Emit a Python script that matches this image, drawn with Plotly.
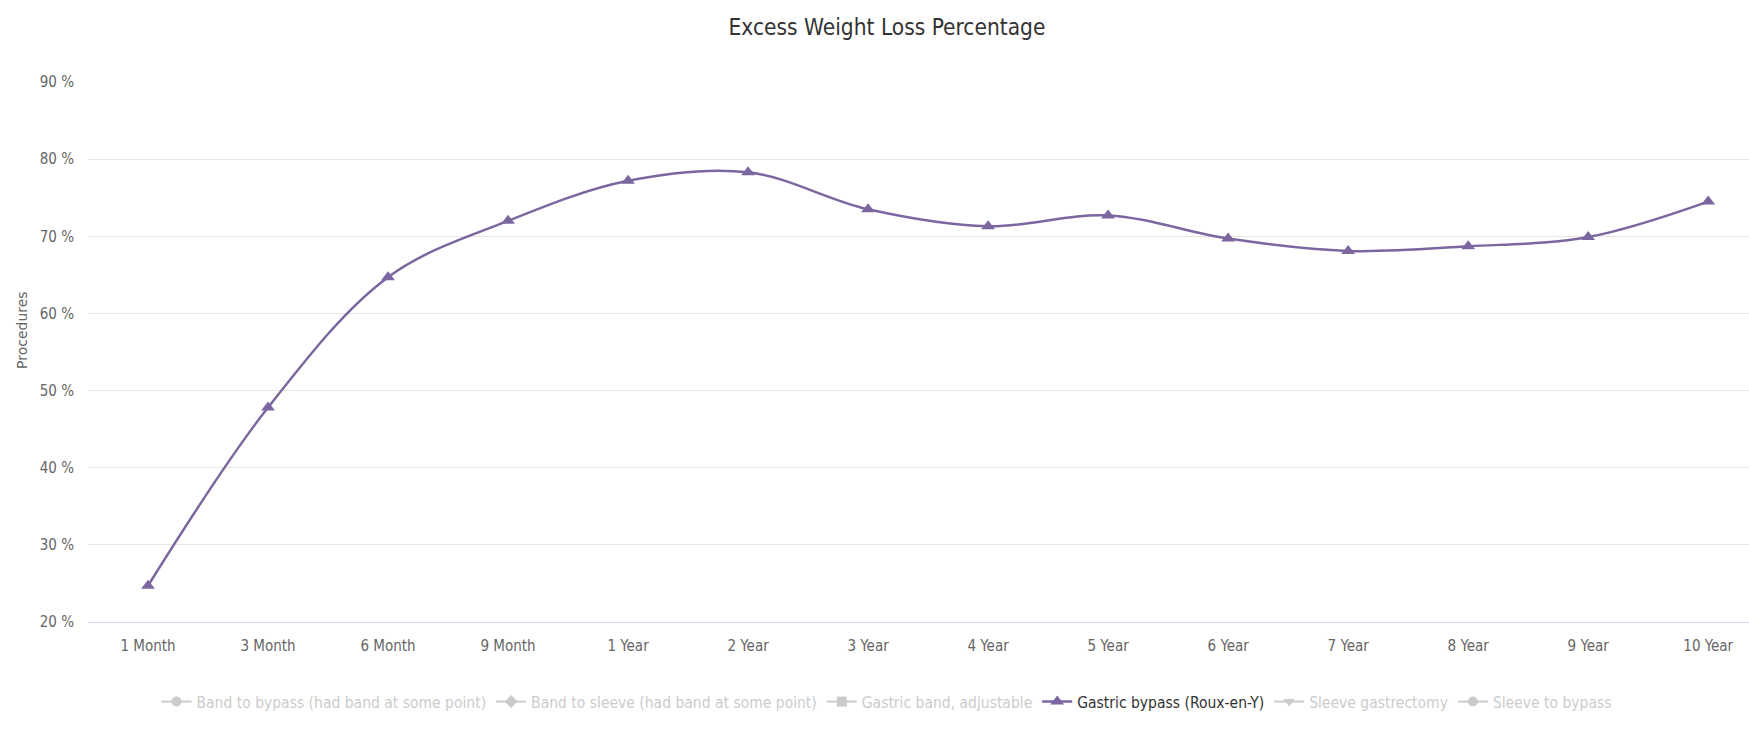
import plotly.graph_objects as go

categories = ["1 Month", "3 Month", "6 Month", "9 Month", "1 Year", "2 Year", "3 Year",
              "4 Year", "5 Year", "6 Year", "7 Year", "8 Year", "9 Year", "10 Year"]
bypass_values = [24.7, 47.8, 64.7, 72.0, 77.2, 78.3, 73.5, 71.3, 72.7, 69.7, 68.1, 68.7, 69.9, 74.5]

series_names = ["Band to bypass (had band at some point)",
                "Band to sleeve (had band at some point)",
                "Gastric band, adjustable",
                "Gastric bypass (Roux-en-Y)",
                "Sleeve gastrectomy",
                "Sleeve to bypass"]
series_symbols = ["circle", "diamond", "square", "triangle-up", "triangle-down", "circle"]
active_series = "Gastric bypass (Roux-en-Y)"
y_ticks = [20, 30, 40, 50, 60, 70, 80, 90]

FONT = "DejaVu Sans Condensed, Liberation Sans Narrow, Roboto Condensed, sans-serif"
PURPLE = "#7b66a0"

fig = go.Figure()
for name, sym in zip(series_names, series_symbols):
    if name == active_series:
        fig.add_trace(go.Scatter(
            x=categories, y=bypass_values, name=name,
            mode="lines+markers",
            line=dict(color=PURPLE, width=2.5, shape="spline", smoothing=1.0),
            marker=dict(symbol=sym, size=12, color=PURPLE),
        ))
    else:
        # hidden series (shown greyed out in the legend only)
        fig.add_trace(go.Scatter(
            x=categories, y=[None] * len(categories),
            name="<span style='color:#999999'>" + name + "</span>",
            mode="lines+markers", visible="legendonly",
            line=dict(color="#999999", width=2),
            marker=dict(symbol=sym, size=10, color="#999999"),
        ))

W, H = 1749, 754
left, top, bottom = 88, 82, 132
plot_w = W - left
CX = 887
fig.update_layout(
    width=W, height=H,
    margin=dict(l=left, r=0, t=top, b=bottom),
    paper_bgcolor="white", plot_bgcolor="white",
    font=dict(family=FONT, color="#666666", size=15),
    title=dict(text="Excess Weight Loss Percentage",
               font=dict(family=FONT, size=22.5, color="#333333"),
               x=CX / W, xref="container", xanchor="center",
               y=1 - 27 / H, yref="container", yanchor="middle"),
    showlegend=True,
    legend=dict(orientation="h", x=(CX - left) / plot_w, xanchor="center",
                y=(622 - 702) / 540, yanchor="middle",
                font=dict(family=FONT, size=15.5, color="#333333"),
                itemclick=False, itemdoubleclick=False),
    xaxis=dict(type="category", range=[-0.5, 13.34], showgrid=False,
               showline=True, linecolor="#ccd6eb", linewidth=1,
               ticks="", ticklabelstandoff=10,
               tickfont=dict(family=FONT, size=15, color="#666666"),
               zeroline=False, fixedrange=True),
    yaxis=dict(range=[20, 90], tickvals=y_ticks,
               ticktext=[f"{v} %" for v in y_ticks],
               showgrid=True, gridcolor="#e6e6e6", gridwidth=1,
               zeroline=False, showline=False, ticks="", ticklabelstandoff=13,
               tickfont=dict(family=FONT, size=15, color="#666666"),
               fixedrange=True),
    annotations=[dict(text="Procedures", textangle=-90, showarrow=False,
                      xref="paper", yref="paper",
                      x=(22 - left) / plot_w, y=(622 - 330) / 540,
                      xanchor="center", yanchor="middle",
                      font=dict(family="DejaVu Sans", size=14, color="#666666"))],
)

fig.write_html("out.html")
